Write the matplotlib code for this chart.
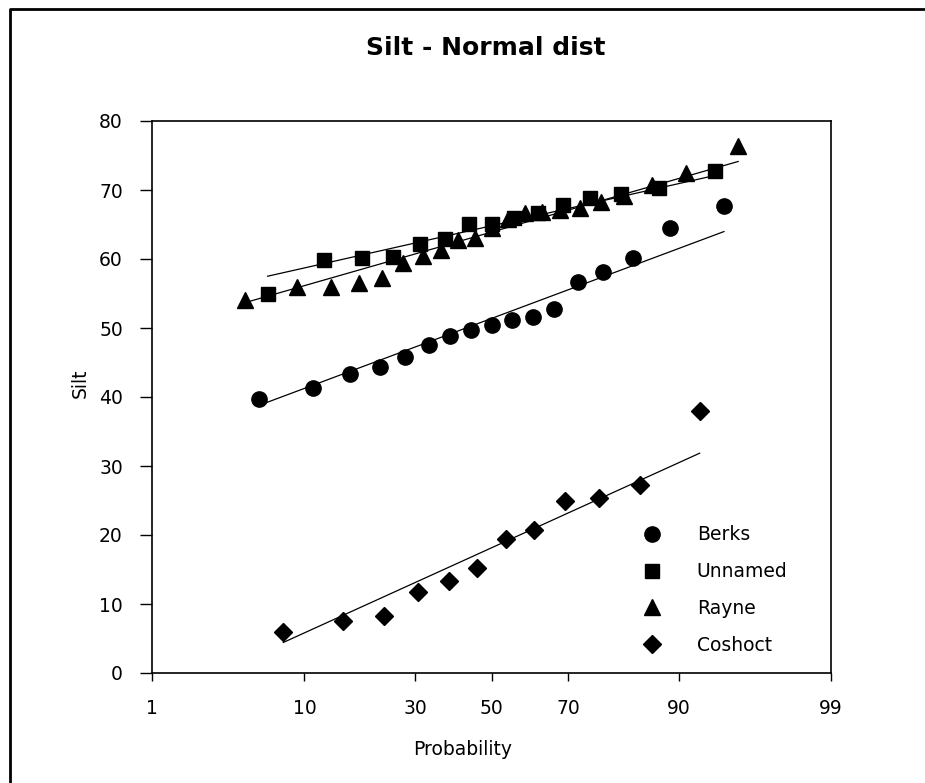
from statistics import NormalDist
import numpy as np
import matplotlib
matplotlib.use("Agg")
import matplotlib.pyplot as plt
from matplotlib.lines import Line2D

# plotting positions (%) and silt values
berks_p = [5.56, 11.11, 16.67, 22.22, 27.78, 33.33, 38.89, 44.44, 50.0,
           55.56, 61.11, 66.67, 72.22, 77.78, 83.33, 88.89, 94.44]
berks_silt = [39.7, 41.3, 43.3, 44.3, 45.8, 47.5, 48.9, 49.7, 50.4,
              51.2, 51.6, 52.7, 56.6, 58.1, 60.2, 64.5, 67.7]

unnamed_p = [6.25, 12.5, 18.75, 25.0, 31.25, 37.5, 43.75, 50.0,
             56.25, 62.5, 68.75, 75.0, 81.25, 87.5, 93.75]
unnamed_silt = [55.0, 59.8, 60.1, 60.3, 62.2, 62.9, 65.1, 65.1,
                66.0, 66.7, 67.8, 68.8, 69.4, 70.3, 72.7]

rayne_p = [4.55, 9.09, 13.64, 18.18, 22.73, 27.27, 31.82, 36.36, 40.91, 45.45, 50.0,
           54.55, 59.09, 63.64, 68.18, 72.73, 77.27, 81.82, 86.36, 90.91, 95.45]
rayne_silt = [54.0, 55.9, 55.9, 56.5, 57.2, 59.4, 60.5, 61.3, 62.7, 63.1, 64.5,
              65.8, 66.7, 66.8, 67.1, 67.4, 68.3, 69.2, 70.7, 72.5, 76.4]

coshoct_p = [7.69, 15.38, 23.08, 30.77, 38.46, 46.15,
             53.85, 61.54, 69.23, 76.92, 84.62, 92.31]
coshoct_silt = [5.9, 7.6, 8.2, 11.8, 13.3, 15.2,
                19.4, 20.7, 24.9, 25.4, 27.3, 38.0]

series_names = ["Berks", "Unnamed", "Rayne", "Coshoct"]
x_ticks = [1, 10, 30, 50, 70, 90, 99]
y_ticks = [0, 10, 20, 30, 40, 50, 60, 70, 80]

nd = NormalDist()
_ppf = np.vectorize(lambda v: nd.inv_cdf(v / 100.0), otypes=[float])
_cdf = np.vectorize(lambda v: 100.0 * nd.cdf(v), otypes=[float])


def prob_fwd(p):
    p = np.clip(np.asarray(p, dtype=float), 1e-6, 100 - 1e-6)
    return _ppf(p)


def prob_inv(z):
    return _cdf(np.asarray(z, dtype=float))


plt.rcParams['font.family'] = ['DejaVu Sans']

fig = plt.figure(figsize=(9.25, 7.83), dpi=100)
ax = fig.add_axes([152 / 925, 1 - 673 / 783, 679 / 925, 552 / 783])
ax.set_xscale('function', functions=(prob_fwd, prob_inv))

data = [(berks_p, berks_silt, 'o', 11),
        (unnamed_p, unnamed_silt, 's', 10),
        (rayne_p, rayne_silt, '^', 11),
        (coshoct_p, coshoct_silt, 'D', 9)]

handles = []
for (p, s, mk, ms), name in zip(data, series_names):
    z = prob_fwd(p)
    # fitted normal line: mean + sd * z, over the range of the points
    mu, sd = np.mean(s), np.std(s, ddof=1)
    ends = np.array([z.min(), z.max()])
    ax.plot([min(p), max(p)], mu + sd * ends, color='k', lw=0.9, zorder=2)
    ax.plot(p, s, ls='none', marker=mk, ms=ms, color='k', zorder=3)
    handles.append(Line2D([], [], ls='none', marker=mk, ms=ms, color='k', label=name))

ax.set_xlim(1, 99)
ax.set_ylim(0, 80)
ax.set_xticks(x_ticks)
ax.set_xticklabels([str(t) for t in x_ticks])
ax.xaxis.set_minor_locator(matplotlib.ticker.NullLocator())
ax.set_yticks(y_ticks)

for sp in ax.spines.values():
    sp.set_linewidth(1.2)
ax.tick_params(axis='y', direction='out', length=9, width=1, pad=12, labelsize=13.5)
ax.tick_params(axis='x', direction='out', length=6, width=1, pad=13, labelsize=13.5)

ax.set_xlabel('Probability', fontsize=13.5)
ax.xaxis.set_label_coords((463 - 152) / 679, (673 - 740) / 552)
ax.set_ylabel('Silt', fontsize=13.5, va='center')
ax.yaxis.set_label_coords((80 - 152) / 679, (673 - 383) / 552)

fig.text(486 / 925, 1 - 48 / 783, 'Silt - Normal dist', ha='center', va='center',
         fontsize=18, fontweight='bold')

ax.legend(handles=handles, loc='upper left', frameon=False, fontsize=13.5,
          handlelength=1.0, handletextpad=1.9, labelspacing=0.95, borderpad=0,
          bbox_to_anchor=(633 / 925, 1 - 516 / 783), bbox_transform=fig.transFigure)

# outer chart border (left and top edges visible)
fig.add_artist(Line2D([10 / 925, 10 / 925, 1.0], [0, 1 - 9 / 783, 1 - 9 / 783],
                      transform=fig.transFigure, color='k', lw=2))

fig.savefig('out.png', dpi=100)
